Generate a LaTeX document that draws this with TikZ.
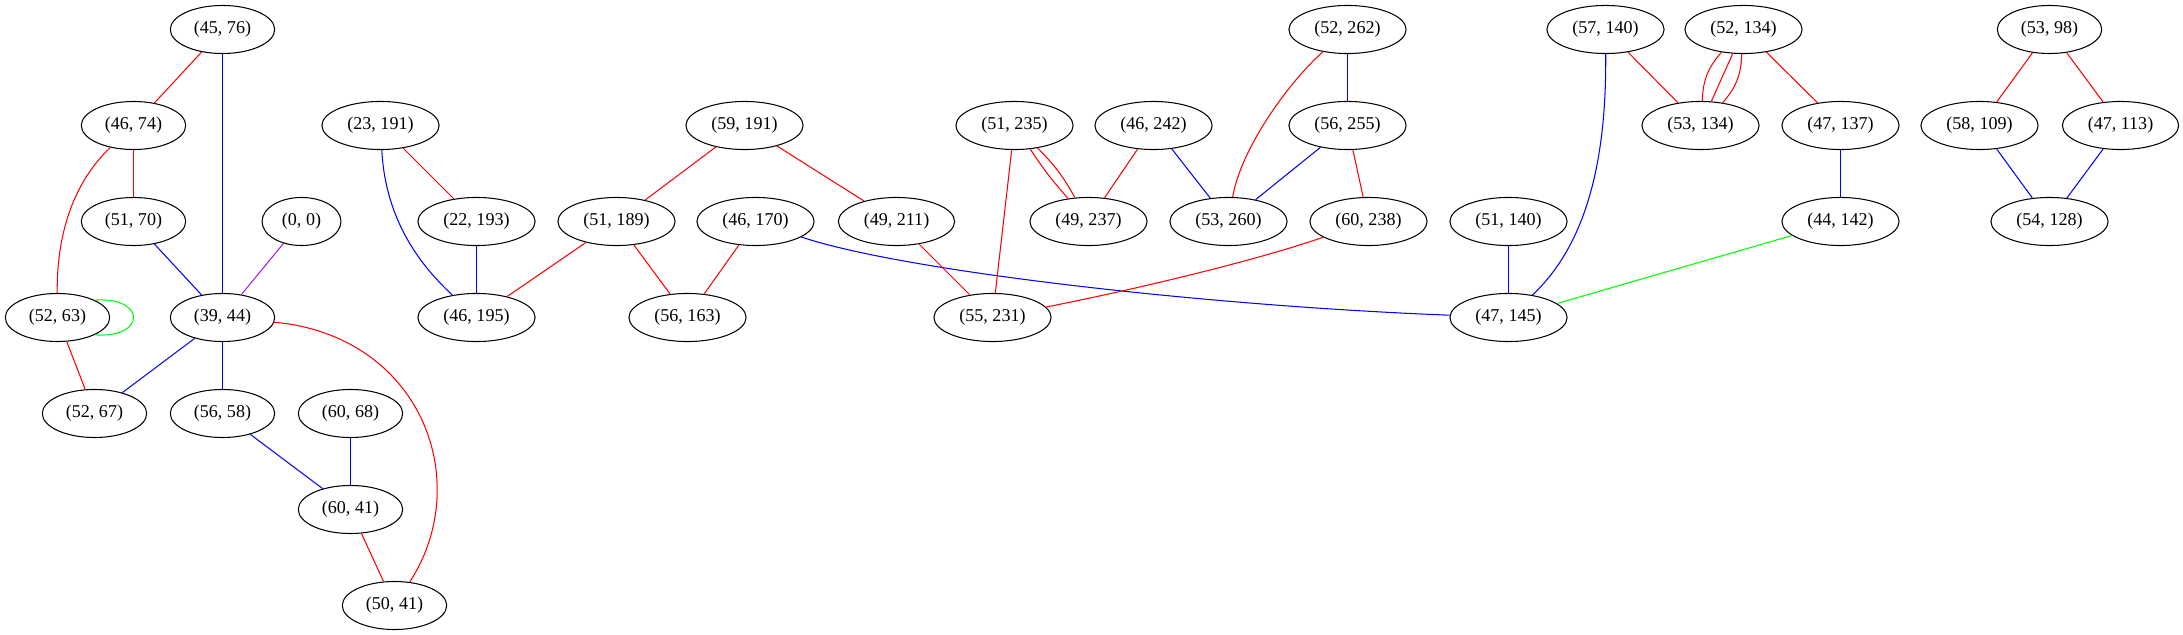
\documentclass[tikz,border=0pt]{standalone}
\usepackage{fontspec}
\setmainfont{Liberation Serif}
\usetikzlibrary{shapes.geometric}
\definecolor{gvred}{HTML}{FF0000}
\definecolor{gvblue}{HTML}{0000FF}
\definecolor{gvgreen}{HTML}{00FF00}
\definecolor{gvpurple}{HTML}{A020F0}

\begin{document}
\begin{tikzpicture}[x=0.72pt, y=-0.72pt,
                    pair/.style={ellipse, draw, line width=0.75pt, inner xsep=6pt, inner ysep=6pt,
                                 minimum height=34.6pt, font=\fontsize{13}{15}\selectfont},
                    redge/.style={gvred, line width=0.75pt},
                    bedge/.style={gvblue, line width=0.75pt},
                    gedge/.style={gvgreen, line width=0.75pt},
                    pedge/.style={gvpurple, line width=0.75pt}]
                    \useasboundingbox (-0.5,-0.5) rectangle (2182.5,634.5);
                    % rank 1
                    \node[pair] (n45-76) at (222,29) {(45, 76)};
                    \node[pair] (n52-262) at (1347,29) {(52, 262)};
                    \node[pair] (n57-140) at (1605,29) {(57, 140)};
                    \node[pair] (n52-134) at (1743,29) {(52, 134)};
                    \node[pair] (n53-98) at (2049,29) {(53, 98)};
                    % rank 2
                    \node[pair] (n46-74) at (133,125) {(46, 74)};
                    \node[pair] (n23-191) at (380,125) {(23, 191)};
                    \node[pair] (n59-191) at (744,125) {(59, 191)};
                    \node[pair] (n51-235) at (1014,125) {(51, 235)};
                    \node[pair] (n46-242) at (1153,125) {(46, 242)};
                    \node[pair] (n56-255) at (1347,125) {(56, 255)};
                    \node[pair] (n53-134) at (1700,125) {(53, 134)};
                    \node[pair] (n47-137) at (1840,125) {(47, 137)};
                    \node[pair] (n58-109) at (1979,125) {(58, 109)};
                    \node[pair] (n47-113) at (2120,125) {(47, 113)};
                    % rank 3
                    \node[pair] (n51-70) at (133,221) {(51, 70)};
                    \node[pair] (n0-0) at (301,221) {(0, 0)};
                    \node[pair] (n22-193) at (476,221) {(22, 193)};
                    \node[pair] (n51-189) at (616,221) {(51, 189)};
                    \node[pair] (n46-170) at (755,221) {(46, 170)};
                    \node[pair] (n49-211) at (896,221) {(49, 211)};
                    \node[pair] (n49-237) at (1088,221) {(49, 237)};
                    \node[pair] (n53-260) at (1228,221) {(53, 260)};
                    \node[pair] (n60-238) at (1368,221) {(60, 238)};
                    \node[pair] (n51-140) at (1508,221) {(51, 140)};
                    \node[pair] (n44-142) at (1840,221) {(44, 142)};
                    \node[pair] (n54-128) at (2049,221) {(54, 128)};
                    % rank 4
                    \node[pair] (n52-63) at (57,317) {(52, 63)};
                    \node[pair] (n39-44) at (222,317) {(39, 44)};
                    \node[pair] (n46-195) at (476,317) {(46, 195)};
                    \node[pair] (n56-163) at (687,317) {(56, 163)};
                    \node[pair] (n55-231) at (992,317) {(55, 231)};
                    \node[pair] (n47-145) at (1508,317) {(47, 145)};
                    % rank 5 to 7
                    \node[pair] (n52-67) at (94,413) {(52, 67)};
                    \node[pair] (n56-58) at (222,413) {(56, 58)};
                    \node[pair] (n60-68) at (350,413) {(60, 68)};
                    \node[pair] (n60-41) at (350,509) {(60, 41)};
                    \node[pair] (n50-41) at (394,605) {(50, 41)};

                    % left part
                    \draw[redge] (n45-76) -- (n46-74);
                    \draw[bedge] (n45-76) -- (n39-44);
                    \draw[redge] (n46-74) -- (n51-70);
                    \draw[redge] (n46-74) .. controls (75,180) and (56,230) .. (n52-63);
                    \draw[bedge] (n51-70) -- (n39-44);
                    \draw[pedge] (n0-0) -- (n39-44);
                    \draw[gedge] (n52-63.25) .. controls (146,296) and (146,338) .. (n52-63.-25);
                    \draw[redge] (n52-63) -- (n52-67);
                    \draw[bedge] (n39-44) -- (n52-67);
                    \draw[bedge] (n39-44) -- (n56-58);
                    \draw[redge] (n39-44) .. controls (420,335) and (475,480) .. (n50-41);
                    \draw[bedge] (n56-58) -- (n60-41);
                    \draw[bedge] (n60-68) -- (n60-41);
                    \draw[redge] (n60-41) -- (n50-41);

                    % middle part
                    \draw[redge] (n23-191) -- (n22-193);
                    \draw[bedge] (n23-191) .. controls (385,220) and (420,265) .. (n46-195);
                    \draw[bedge] (n22-193) -- (n46-195);
                    \draw[redge] (n59-191) -- (n51-189);
                    \draw[redge] (n59-191) -- (n49-211);
                    \draw[redge] (n51-189) -- (n46-195);
                    \draw[redge] (n51-189) -- (n56-163);
                    \draw[redge] (n46-170) -- (n56-163);
                    \draw[bedge] (n46-170) .. controls (900,270) and (1200,305) .. (n47-145);
                    \draw[redge] (n49-211) -- (n55-231);
                    \draw[redge] (n51-235) -- (n55-231);
                    \draw[redge] (n51-235) to[bend right=4] (n49-237);
                    \draw[redge] (n51-235) to[bend left=8] (n49-237);
                    \draw[redge] (n46-242) -- (n49-237);
                    \draw[bedge] (n46-242) -- (n53-260);
                    \draw[redge] (n52-262) .. controls (1285,85) and (1240,150) .. (n53-260);
                    \draw[bedge] (n52-262) -- (n56-255);
                    \draw[bedge] (n56-255) -- (n53-260);
                    \draw[redge] (n56-255) -- (n60-238);
                    \draw[redge] (n60-238) .. controls (1250,262) and (1120,292) .. (n55-231);

                    % right part
                    \draw[redge] (n57-140) -- (n53-134);
                    \draw[bedge] (n57-140) .. controls (1606,150) and (1590,240) .. (n47-145);
                    \draw[redge] (n52-134) to[bend right=20] (n53-134);
                    \draw[redge] (n52-134) -- (n53-134);
                    \draw[redge] (n52-134) to[bend left=20] (n53-134);
                    \draw[redge] (n52-134) -- (n47-137);
                    \draw[bedge] (n47-137) -- (n44-142);
                    \draw[bedge] (n51-140) -- (n47-145);
                    \draw[gedge] (n44-142) -- (n47-145);
                    \draw[redge] (n53-98) -- (n58-109);
                    \draw[redge] (n53-98) -- (n47-113);
                    \draw[bedge] (n58-109) -- (n54-128);
                    \draw[bedge] (n47-113) -- (n54-128);
                \end{tikzpicture}
\end{document}
